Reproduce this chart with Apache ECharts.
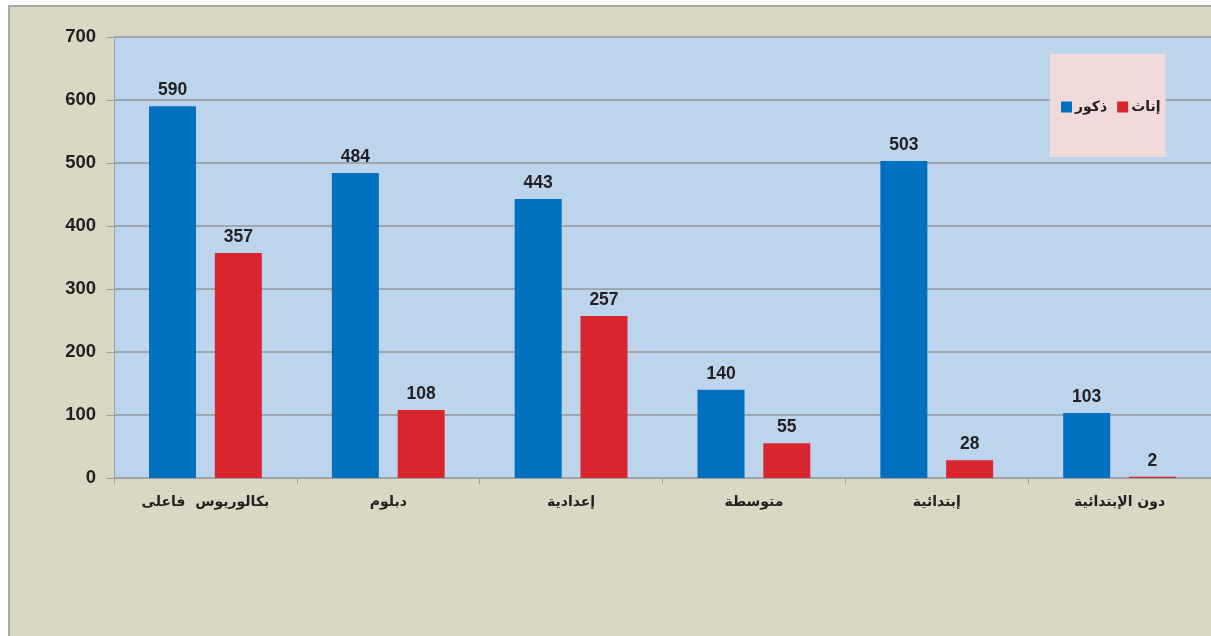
<!DOCTYPE html>
<html>
<head>
<meta charset="utf-8">
<script src="https://cdn.jsdelivr.net/npm/echarts@6/dist/echarts.min.js"></script>
<style>
  html, body { margin: 0; padding: 0; background: #fff; }
  #chart { width: 1211px; height: 636px; }
</style>
</head>
<body>
<div id="chart"></div>
<script>
var categories = ['بكالوريوس  فاعلى', 'دبلوم', 'إعدادية', 'متوسطة', 'إبتدائية', 'دون الإبتدائية'];
var males = [590, 484, 443, 140, 503, 103];
var females = [357, 108, 257, 55, 28, 2];
var seriesNames = ['ذكور', 'إناث'];

var chart = echarts.init(document.getElementById('chart'));

var labelStyle = {
    show: true,
    position: 'top',
    distance: 7,
    color: '#231f20',
    fontFamily: 'Liberation Sans, Arial',
    fontWeight: 'bold',
    fontSize: 17.5
};

chart.setOption({
    backgroundColor: '#ffffff',
    animation: false,
    graphic: [{
        type: 'rect',
        z: -10,
        shape: { x: 9, y: 6, width: 1220, height: 640 },
        style: { fill: '#dad7c4', stroke: '#a8a8a8', lineWidth: 2 }
    }],
    legend: {
        data: seriesNames,
        left: 1050,
        top: 54,
        orient: 'horizontal',
        backgroundColor: '#f0dada',
        padding: [46, 5, 43, 11],
        icon: 'rect',
        itemWidth: 11,
        itemHeight: 11,
        itemGap: 10,
        textStyle: {
            color: '#231f20',
            fontFamily: 'DejaVu Sans',
            fontWeight: 'bold',
            fontSize: 14,
            padding: [0, 0, 0, -2]
        }
    },
    grid: {
        left: 114,
        top: 37,
        width: 1100,
        height: 441,
        show: true,
        backgroundColor: '#bcd4ec',
        borderWidth: 0
    },
    xAxis: {
        type: 'category',
        data: categories,
        axisLine: { lineStyle: { color: '#9aa0a6', width: 1 } },
        axisTick: { show: true, length: 6, lineStyle: { color: '#9aa0a6' } },
        axisLabel: {
            color: '#231f20',
            fontFamily: 'DejaVu Sans',
            fontWeight: 'bold',
            fontSize: 14,
            margin: 17
        }
    },
    yAxis: {
        type: 'value',
        min: 0,
        max: 700,
        interval: 100,
        axisLine: { show: true, lineStyle: { color: '#9aa0a6', width: 1 } },
        axisTick: { show: true, length: 7, lineStyle: { color: '#9aa0a6' } },
        splitLine: { lineStyle: { color: '#9ea6ae', width: 2 } },
        axisLabel: {
            color: '#231f20',
            fontFamily: 'Liberation Sans, Arial',
            fontWeight: 'bold',
            fontSize: 18.5,
            margin: 18
        }
    },
    series: [{
        name: seriesNames[0],
        type: 'bar',
        data: males,
        barWidth: 47,
        barGap: '40%',
        itemStyle: { color: '#0070bf' },
        label: labelStyle
    }, {
        name: seriesNames[1],
        type: 'bar',
        data: females,
        barWidth: 47,
        barGap: '40%',
        itemStyle: { color: '#d9262e' },
        label: labelStyle
    }]
});
</script>
</body>
</html>
